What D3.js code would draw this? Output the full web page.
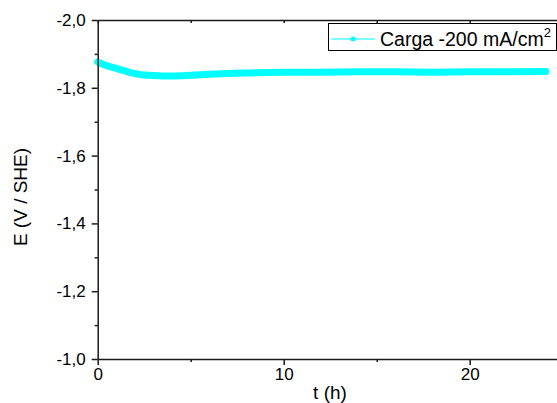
<!DOCTYPE html>
<html>
<head>
<meta charset="utf-8">
<script src="https://cdn.jsdelivr.net/npm/d3@7"></script>
<style>
  html, body { margin: 0; padding: 0; background: #fff; }
  svg { display: block; }
  text { font-family: "Liberation Sans", Arial, sans-serif; fill: #000; }
</style>
</head>
<body>
<svg id="chart" width="557" height="403"></svg>
<script>
// ---- data ----
const timeH = [0, 0.25, 0.5, 0.75, 1, 1.5, 2, 2.5, 3, 3.5, 4, 5, 6, 7, 8, 9, 10, 12, 14, 16, 18, 20, 22, 24.1];
const potentialE = [-1.876, -1.870, -1.865, -1.861, -1.857, -1.849, -1.842, -1.838, -1.836, -1.835, -1.835, -1.837, -1.840, -1.842, -1.844, -1.845, -1.846, -1.846, -1.847, -1.847, -1.846, -1.847, -1.847, -1.848];
const xTicks = [0, 10, 20];
const xMinorTicks = [5, 15];
const yTicks = [-2.0, -1.8, -1.6, -1.4, -1.2, -1.0];
const yMinorTicks = [-1.9, -1.7, -1.5, -1.3, -1.1];
const seriesLabel = "Carga -200 mA/cm";
const seriesSup = "2";
const xTitle = "t (h)";
const yTitle = "E (V / SHE)";

// ---- layout ----
const mLeft = 97.7, mTop = 20, mBottom = 359;
const x = d3.scaleLinear().domain([0, 25]).range([mLeft, mLeft + 25 * 18.6]);
const y = d3.scaleLinear().domain([-2, -1]).range([mTop, mBottom]);
const fmt = d => d3.format(".1f")(d).replace(".", ",").replace("\u2212", "-");

const svg = d3.select("#chart");
const axisColor = "#1a1a1a";

// data line
const line = d3.line().x((d, i) => x(timeH[i])).y(d => y(d)).curve(d3.curveMonotoneX);
svg.append("path")
  .datum(potentialE)
  .attr("d", line)
  .attr("fill", "none")
  .attr("stroke", "#00FFFF")
  .attr("stroke-width", 7)
  .attr("stroke-linecap", "round")
  .attr("stroke-linejoin", "round");

function styleAxis(g) {
  g.selectAll("path.domain, line").attr("stroke", axisColor).attr("stroke-width", 1.5);
  g.selectAll("text").attr("fill", "#000").style("font-family", '"Liberation Sans", Arial, sans-serif');
}

// bottom axis
const gx = svg.append("g").attr("transform", `translate(0,${mBottom})`)
  .call(d3.axisBottom(x).tickValues(xTicks).tickSize(6).tickSizeOuter(0).tickFormat(d3.format("d")).tickPadding(3));
gx.selectAll("text").style("font-size", "17px");
styleAxis(gx);
const gxm = svg.append("g").attr("transform", `translate(0,${mBottom})`)
  .call(d3.axisBottom(x).tickValues(xMinorTicks).tickSize(3).tickSizeOuter(0).tickFormat(""));
gxm.select("path.domain").remove();
styleAxis(gxm);

// top axis (inward ticks)
const gt = svg.append("g").attr("transform", `translate(0,${mTop})`)
  .call(d3.axisTop(x).tickValues(xTicks.concat(xMinorTicks)).tickSize(-3).tickSizeOuter(0).tickFormat(""));
styleAxis(gt);

// left axis
const gy = svg.append("g").attr("transform", `translate(${mLeft},0)`)
  .call(d3.axisLeft(y).tickValues(yTicks).tickSize(6).tickSizeOuter(0).tickFormat(fmt).tickPadding(6));
gy.selectAll("text").style("font-size", "17px");
styleAxis(gy);
const gym = svg.append("g").attr("transform", `translate(${mLeft},0)`)
  .call(d3.axisLeft(y).tickValues(yMinorTicks).tickSize(3).tickSizeOuter(0).tickFormat(""));
gym.select("path.domain").remove();
styleAxis(gym);

// axis titles
svg.append("text").attr("x", 330).attr("y", 399).attr("text-anchor", "middle")
  .style("font-size", "19px").text(xTitle);
svg.append("text").attr("transform", "translate(27,197) rotate(-90)").attr("text-anchor", "middle")
  .style("font-size", "19px").text(yTitle);

// legend
const lg = svg.append("g");
lg.append("rect").attr("x", 328.5).attr("y", 23.5).attr("width", 228).attr("height", 27)
  .attr("fill", "#fff").attr("stroke", "#000").attr("stroke-width", 1);
lg.append("line").attr("x1", 331).attr("x2", 375).attr("y1", 39).attr("y2", 39)
  .attr("stroke", "#00FFFF").attr("stroke-width", 1);
lg.append("circle").attr("cx", 353).attr("cy", 39).attr("r", 2.5).attr("fill", "#00FFFF");
const lt = lg.append("text").attr("x", 380).attr("y", 46).style("font-size", "19.5px");
lt.append("tspan").text(seriesLabel);
lt.append("tspan").attr("dy", -9).style("font-size", "13px").text(seriesSup);
</script>
</body>
</html>
